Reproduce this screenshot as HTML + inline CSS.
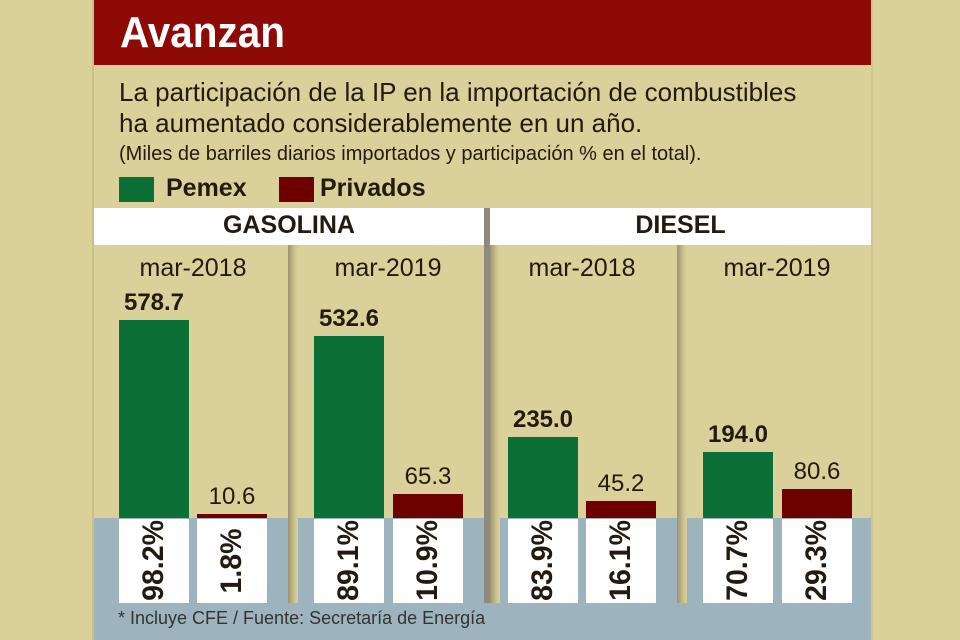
<!DOCTYPE html>
<html><head><meta charset="utf-8"><style>
*{margin:0;padding:0;box-sizing:border-box}
body{width:960px;height:640px;overflow:hidden;background:#dad099;font-family:"Liberation Sans",sans-serif;color:#231a10;position:relative}
div{position:absolute}
.t{white-space:nowrap}
.bar{width:70px}
.g{background:#0c6f36}
.r{background:#6e0000}
.wb{background:#fff;width:70px;top:519px;height:84px}
.pct{font-weight:bold;font-size:30px;transform:rotate(-90deg) scaleX(0.95);transform-origin:center;width:84px;text-align:center;line-height:70px;left:-7px;top:7px}
.lab{font-size:24px;text-align:center;width:100px}
.mar{font-size:25px;text-align:center;width:160px;top:254px}
.sh{width:10px;top:245px;height:358px;background:linear-gradient(to right,#9c9370,#d0c690 70%,#dad099)}
</style></head><body>
<div style="left:92px;top:0;width:2px;height:640px;background:#c9bf88"></div>
<div style="left:871px;top:0;width:2px;height:640px;background:#cfc58e"></div>
<div style="left:94px;top:0;width:777px;height:65px;background:#8d0a06"></div>
<div class="t" style="left:120px;top:8px;font-size:44px;font-weight:bold;color:#fff;transform:scaleX(0.92);transform-origin:left">Avanzan</div>
<div class="t" style="left:119px;top:77px;font-size:26px;line-height:31px">La participación de la IP en la importación de combustibles<br>ha aumentado considerablemente en un año.</div>
<div class="t" style="left:119px;top:143px;font-size:20px">(Miles de barriles diarios importados y participación % en el total).</div>
<div style="left:119px;top:177px;width:35px;height:25px;background:#0c6f36"></div>
<div class="t" style="left:166px;top:174px;font-size:25px;font-weight:bold">Pemex</div>
<div style="left:279px;top:177px;width:35px;height:25px;background:#6e0000"></div>
<div class="t" style="left:320px;top:174px;font-size:25px;font-weight:bold">Privados</div>
<div style="left:94px;top:208px;width:390px;height:37px;background:#fff"></div>
<div style="left:490px;top:208px;width:381px;height:37px;background:#fff"></div>
<div class="t" style="left:94px;top:211px;width:390px;text-align:center;font-size:25px;font-weight:bold">GASOLINA</div>
<div class="t" style="left:490px;top:211px;width:381px;text-align:center;font-size:25px;font-weight:bold">DIESEL</div>
<div style="left:94px;top:518px;width:777px;height:122px;background:#9db4bf"></div>
<div class="sh" style="left:288px"></div>
<div class="sh" style="left:490px"></div>
<div class="sh" style="left:677px"></div>
<div style="left:484px;top:208px;width:6px;height:395px;background:#8f8a80"></div>
<div class="mar t" style="left:113px">mar-2018</div>
<div class="mar t" style="left:308px">mar-2019</div>
<div class="mar t" style="left:502px">mar-2018</div>
<div class="mar t" style="left:697px">mar-2019</div>

<div class="bar g" style="left:119px;top:320px;height:198px"></div>
<div class="bar r" style="left:197px;top:514px;height:4px"></div>
<div class="bar g" style="left:314px;top:336px;height:182px"></div>
<div class="bar r" style="left:393px;top:494px;height:24px"></div>
<div class="bar g" style="left:508px;top:437px;height:81px"></div>
<div class="bar r" style="left:586px;top:501px;height:17px"></div>
<div class="bar g" style="left:703px;top:452px;height:66px"></div>
<div class="bar r" style="left:782px;top:489px;height:29px"></div>

<div class="lab t" style="left:104px;top:289px;font-weight:bold">578.7</div>
<div class="lab t" style="left:182px;top:483px">10.6</div>
<div class="lab t" style="left:299px;top:305px;font-weight:bold">532.6</div>
<div class="lab t" style="left:378px;top:463px">65.3</div>
<div class="lab t" style="left:493px;top:406px;font-weight:bold">235.0</div>
<div class="lab t" style="left:571px;top:470px">45.2</div>
<div class="lab t" style="left:688px;top:421px;font-weight:bold">194.0</div>
<div class="lab t" style="left:767px;top:458px">80.6</div>

<div class="wb" style="left:119px"><div class="pct t">98.2%</div></div>
<div class="wb" style="left:197px"><div class="pct t">1.8%</div></div>
<div class="wb" style="left:314px"><div class="pct t">89.1%</div></div>
<div class="wb" style="left:393px"><div class="pct t">10.9%</div></div>
<div class="wb" style="left:508px"><div class="pct t">83.9%</div></div>
<div class="wb" style="left:586px"><div class="pct t">16.1%</div></div>
<div class="wb" style="left:703px"><div class="pct t">70.7%</div></div>
<div class="wb" style="left:782px"><div class="pct t">29.3%</div></div>

<div class="t" style="left:118px;top:608px;font-size:18px;color:#333">* Incluye CFE / Fuente: Secretaría de Energía</div>
</body></html>
